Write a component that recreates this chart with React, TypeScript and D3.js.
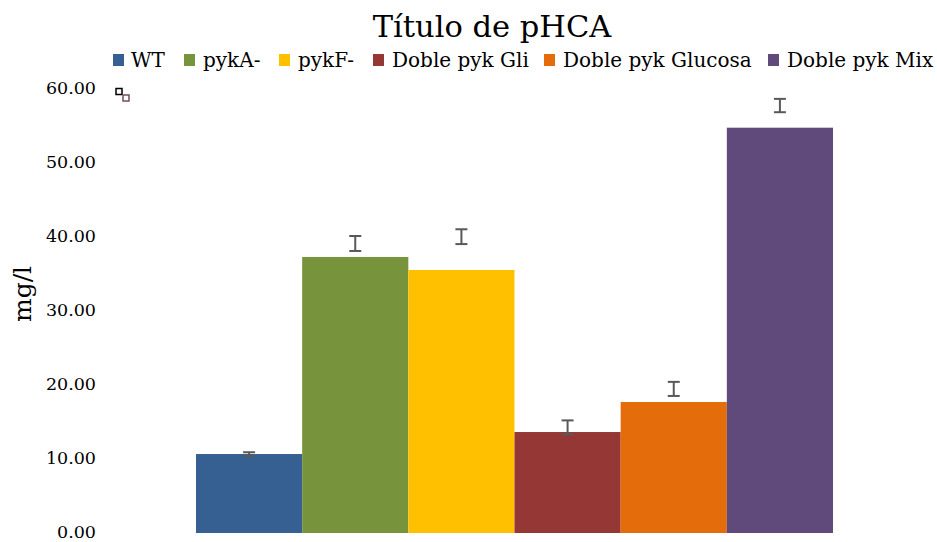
import React from "react";
import * as d3 from "d3";

const series = ["WT", "pykA-", "pykF-", "Doble pyk Gli", "Doble pyk Glucosa", "Doble pyk Mix"];
const values = [10.66, 37.26, 35.5, 13.63, 17.68, 54.71];
const errLow = [10.4, 38.07, 39.0, 13.3, 18.5, 56.8];
const errHigh = [10.9, 40.09, 41.0, 15.2, 20.4, 58.6];
const colors = ["#376092", "#77933C", "#FFC000", "#953735", "#E46C0A", "#604A7B"];
const yTicks = [0, 10, 20, 30, 40, 50, 60];

const W = 937;
const H = 542;
const FONT = "'DejaVu Serif', serif";

export default function App() {
  const y = d3.scaleLinear().domain([0, 60]).range([533, 88.5]);
  const x = d3.scaleBand<string>().domain(series).range([196, 833]).padding(0);
  const legendX = [113, 184, 279, 373, 544, 768];
  const legendTextX = [131, 203, 298, 392, 563, 787];
  return (
    <svg
      width={W}
      height={H}
      style={{ position: "absolute", left: 0, top: 0, background: "#fff" }}
      fontFamily={FONT}
    >
      <text x={492} y={37} textAnchor="middle" fontSize={30.5} fill="#000">
        Título de pHCA
      </text>
      {series.map((s, i) => (
        <g key={s}>
          <rect x={legendX[i]} y={54} width={11} height={12} fill={colors[i]} />
          <text x={legendTextX[i]} y={67} fontSize={20} fill="#000">
            {s}
          </text>
        </g>
      ))}
      {yTicks.map((t) => (
        <text key={t} x={96} y={y(t) + 5} textAnchor="end" fontSize={17.5} fill="#000">
          {d3.format(".2f")(t)}
        </text>
      ))}
      <text
        transform={`translate(31,294) rotate(-90)`}
        textAnchor="middle"
        fontSize={25}
        fill="#000"
      >
        mg/l
      </text>
      {series.map((s, i) => (
        <rect
          key={s}
          x={x(s)!}
          y={y(values[i])}
          width={x.bandwidth()}
          height={y(0) - y(values[i])}
          fill={colors[i]}
        />
      ))}
      {series.map((s, i) => {
        const cx = x(s)! + x.bandwidth() / 2;
        return (
          <g key={s} stroke="#595959" strokeWidth={2}>
            <line x1={cx} x2={cx} y1={y(errLow[i])} y2={y(errHigh[i])} />
            <line x1={cx - 6} x2={cx + 6} y1={y(errLow[i])} y2={y(errLow[i])} />
            <line x1={cx - 6} x2={cx + 6} y1={y(errHigh[i])} y2={y(errHigh[i])} />
          </g>
        );
      })}
      <rect x={116} y={88.5} width={6} height={6} fill="#fff" stroke="#000" strokeWidth={1.5} />
      <rect x={123} y={95} width={6} height={6} fill="#fff" stroke="#7a4a60" strokeWidth={1.5} />
    </svg>
  );
}
